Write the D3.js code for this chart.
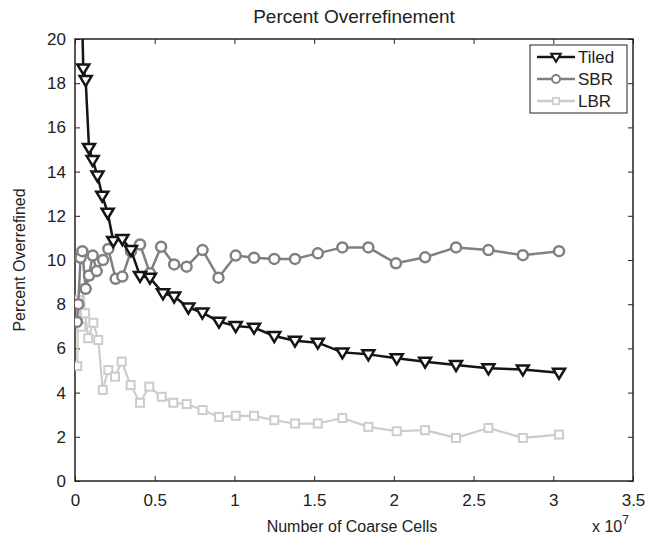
<!DOCTYPE html>
<html>
<head>
<meta charset="utf-8">
<script src="https://cdn.jsdelivr.net/npm/d3@7"></script>
<style>
  body { margin: 0; background: #fff; }
  text { font-family: "Liberation Sans", Arial, sans-serif; fill: #222; }
</style>
</head>
<body>
<div id="chart-area"></div>
<script>
// number of coarse cells (x 10^7) and percent overrefined
var tiledX = [0.035, 0.052, 0.067, 0.088, 0.111, 0.141, 0.171, 0.205, 0.240, 0.297, 0.351, 0.408, 0.470, 0.552, 0.622, 0.711, 0.799, 0.903, 1.008, 1.123, 1.250, 1.380, 1.523, 1.677, 1.840, 2.018, 2.196, 2.390, 2.593, 2.809, 3.036]
var tiledY = [24.0, 18.67, 18.14, 15.07, 14.52, 13.82, 12.91, 12.14, 10.86, 10.95, 10.45, 9.28, 9.2, 8.49, 8.35, 7.85, 7.62, 7.21, 7.01, 6.94, 6.56, 6.35, 6.26, 5.82, 5.73, 5.55, 5.40, 5.25, 5.10, 5.05, 4.90]

var sbrX = [0.012, 0.020, 0.035, 0.046, 0.067, 0.088, 0.111, 0.136, 0.176, 0.209, 0.255, 0.297, 0.351, 0.408, 0.470, 0.540, 0.622, 0.700, 0.800, 0.900, 1.008, 1.123, 1.250, 1.380, 1.523, 1.677, 1.840, 2.013, 2.196, 2.390, 2.593, 2.809, 3.036]
var sbrY = [7.2, 8.0, 10.1, 10.4, 8.7, 9.3, 10.2, 9.5, 10.0, 10.5, 9.15, 9.25, 10.4, 10.7, 9.4, 10.6, 9.8, 9.7, 10.45, 9.2, 10.2, 10.1, 10.05, 10.05, 10.3, 10.57, 10.57, 9.85, 10.12, 10.57, 10.45, 10.22, 10.4]

var lbrX = [0.014, 0.021, 0.040, 0.052, 0.063, 0.083, 0.115, 0.146, 0.174, 0.209, 0.251, 0.293, 0.349, 0.408, 0.466, 0.544, 0.617, 0.700, 0.800, 0.903, 1.008, 1.123, 1.250, 1.380, 1.523, 1.677, 1.840, 2.018, 2.196, 2.390, 2.593, 2.809, 3.036]
var lbrY = [5.2, 8.19, 6.98, 8.72, 7.59, 6.46, 7.16, 6.38, 4.12, 5.02, 4.72, 5.40, 4.34, 3.54, 4.27, 3.81, 3.54, 3.48, 3.21, 2.9, 2.95, 2.95, 2.75, 2.6, 2.6, 2.85, 2.45, 2.25, 2.3, 1.95, 2.4, 1.95, 2.1]

var xTicks = [0, 0.5, 1, 1.5, 2, 2.5, 3, 3.5]
var yTicks = [0, 2, 4, 6, 8, 10, 12, 14, 16, 18, 20]

var margin = {left:75, right:13, top:39, bottom:65}
var width = 646 - margin.left - margin.right
var height = 546 - margin.top - margin.bottom

var svg = d3.select("#chart-area").append("svg")
    .attr("width", 646)
    .attr("height", 546)

var g = svg.append("g")
  .attr("transform", "translate(" + margin.left + "," + margin.top + ")")

var x = d3.scaleLinear().domain([0, 3.5]).range([0, width])
var y = d3.scaleLinear().domain([0, 20]).range([height, 0])

g.append("clipPath").attr("id", "clip")
  .append("rect").attr("width", width).attr("height", height)

// ticks on all four sides, pointing inwards
function styleAxis(sel) {
  sel.select(".domain").remove()
  sel.selectAll("line").attr("stroke", "#222")
  sel.selectAll("text").style("font-size", "17px").style("font-family", "Liberation Sans, Arial, sans-serif").attr("fill", "#222")
}
g.append("g").attr("transform", "translate(0," + height + ")")
  .call(d3.axisBottom(x).tickValues(xTicks).tickSize(-5).tickPadding(13).tickFormat(d3.format("")))
  .call(styleAxis)
g.append("g")
  .call(d3.axisTop(x).tickValues(xTicks).tickSize(-5).tickFormat(""))
  .call(styleAxis)
g.append("g")
  .call(d3.axisLeft(y).tickValues(yTicks).tickSize(-5).tickPadding(9))
  .call(styleAxis)
g.append("g").attr("transform", "translate(" + width + ",0)")
  .call(d3.axisRight(y).tickValues(yTicks).tickSize(-5).tickFormat(""))
  .call(styleAxis)

g.append("rect").attr("width", width).attr("height", height)
  .attr("fill", "none").attr("stroke", "#222").attr("stroke-width", 1.5)

var series = [
  {name: "Tiled", xs: tiledX, ys: tiledY, color: "#151515", shape: "tri"},
  {name: "SBR", xs: sbrX, ys: sbrY, color: "#808080", shape: "circle"},
  {name: "LBR", xs: lbrX, ys: lbrY, color: "#cccccc", shape: "square"}
]

function marker(sel, shape, color) {
  if (shape == "tri") {
    sel.append("path").attr("d", "M-6,-4L6,-4L0,6Z")
      .attr("fill", "#fff").attr("stroke", color).attr("stroke-width", 2.5)
  } else if (shape == "circle") {
    sel.append("circle").attr("r", 5)
      .attr("fill", "#fff").attr("stroke", color).attr("stroke-width", 2.5)
  } else {
    sel.append("rect").attr("x", -4).attr("y", -4).attr("width", 8).attr("height", 8)
      .attr("fill", "#fff").attr("stroke", color).attr("stroke-width", 2)
  }
}

var line = d3.line()
  .x(function(d) { return x(d[0]); })
  .y(function(d) { return y(d[1]); })

var plot = g.append("g").attr("clip-path", "url(#clip)")

// draw back to front: LBR, SBR, Tiled
series.slice().reverse().forEach(function(s) {
  var pts = s.xs.map(function(v, i) { return [v, s.ys[i]]; })
  plot.append("path").datum(pts)
    .attr("fill", "none").attr("stroke", s.color)
    .attr("stroke-width", s.shape == "square" ? 2.2 : 2.5)
    .attr("stroke-linejoin", "round")
    .attr("d", line)
  plot.selectAll(null).data(pts).enter().append("g")
    .attr("transform", function(d) { return "translate(" + x(d[0]) + "," + y(d[1]) + ")"; })
    .each(function() { marker(d3.select(this), s.shape, s.color); })
})

// legend
var legend = g.append("g").attr("transform", "translate(" + (width - 103) + ",6)")
legend.append("rect").attr("width", 97).attr("height", 68)
  .attr("fill", "#fff").attr("stroke", "#222").attr("stroke-width", 1)
series.forEach(function(s, i) {
  var row = legend.append("g").attr("transform", "translate(0," + (12 + i * 22) + ")")
  row.append("line").attr("x1", 7).attr("x2", 45)
    .attr("stroke", s.color).attr("stroke-width", 2.5)
  var m = row.append("g")
  marker(m, s.shape, s.color)
  m.attr("transform", "translate(26,0) scale(0.8)")
  row.append("text").attr("x", 48).attr("y", 6).style("font-size", "17px").text(s.name)
})

// titles
svg.append("text").attr("x", margin.left + width / 2).attr("y", 23)
  .attr("text-anchor", "middle").style("font-size", "19px").text("Percent Overrefinement")
svg.append("text").attr("x", margin.left + width / 2 - 2).attr("y", 532)
  .attr("text-anchor", "middle").style("font-size", "16px").text("Number of Coarse Cells")
svg.append("text")
  .attr("transform", "translate(25," + (margin.top + height / 2) + ") rotate(-90)")
  .attr("text-anchor", "middle").style("font-size", "16px").text("Percent Overrefined")
var exp = svg.append("text").attr("x", 592).attr("y", 532).style("font-size", "16px")
exp.append("tspan").text("x 10")
exp.append("tspan").attr("dy", -8).style("font-size", "12px").text("7")
</script>
</body>
</html>
